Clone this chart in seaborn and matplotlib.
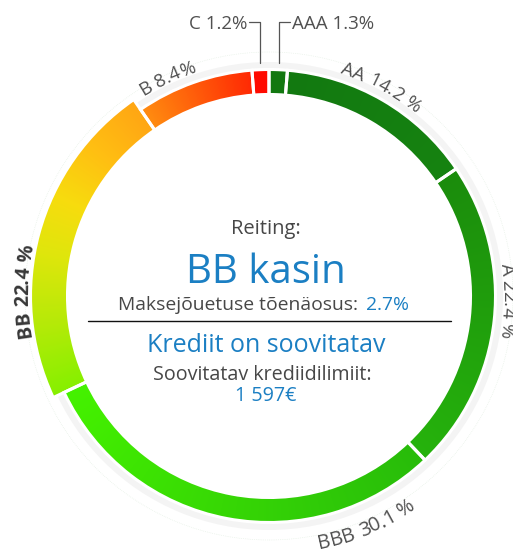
import numpy as np
import matplotlib
matplotlib.use("Agg")
import matplotlib.pyplot as plt
import seaborn as sns
from matplotlib.colors import LinearSegmentedColormap
from matplotlib.font_manager import FontProperties, findfont
from matplotlib.ft2font import FT2Font
from matplotlib.patches import Circle

# ---------------- data ----------------
categories = ["AAA", "AA", "A", "BBB", "BB", "B", "C"]
shares = [1.3, 14.2, 22.4, 30.1, 22.4, 8.4, 1.2]
pct_sep = ["", " ", " ", " ", " ", "", ""]
current_rating = "BB"
header = "Reiting:"
rating_text = "BB kasin"
pd_label = "Maksejõuetuse tõenäosus:"
pd_value = "2.7%"
recommendation = "Krediit on soovitatav"
limit_label = "Soovitatav krediidilimiit:"
limit_value = "1 597€"

# ---------------- style / layout ----------------
W, H, DPI = 513, 553, 100
sns.set_theme(style="white")
plt.rcParams["font.family"] = ["Open Sans", "DejaVu Sans"]

BLUE = "#1b7fc3"
GRAY = "#474747"
LABEL = "#505050"

cx, cy = 269, H - 296
R_OUT, R_IN, R_BB = 225, 203, 237
GAP_LW = 2.2

ring_stops = [
    (0.000, "#127810"), (0.155, "#168310"),
    (0.156, "#1b8c0d"), (0.379, "#26b30c"),
    (0.380, "#28bc0a"), (0.680, "#45f200"),
    (0.681, "#86f000"), (0.730, "#b5ea08"), (0.780, "#dfe60c"),
    (0.820, "#f7dc0e"), (0.860, "#ffc012"), (0.904, "#ffa614"),
    (0.905, "#ff8c10"), (0.987, "#ff2a04"),
    (0.988, "#ff0a00"), (1.000, "#ff0a00"),
]

# label placement: (offset from segment mid angle in deg, baseline radius, outward-reading, size)
label_layout = {
    "AA": (-2.0, 234, True, 13.5),
    "A": (-5.0, 234, True, 13.5),
    "BBB": (-33.6, 258, False, 14.5),
    "BB": (-14.0, 241, True, 14),
    "B": (-5.6, 236, True, 13.5),
}

fig = plt.figure(figsize=(W / DPI, H / DPI), dpi=DPI)
ax = fig.add_axes([0, 0, 1, 1])

# soft halo behind the ring
ax.pie([1], radius=R_OUT + 9, center=(cx, cy), colors=["#f4f4f4"],
       wedgeprops=dict(width=10, linewidth=0), startangle=90)
for w in ax.patches:
    w.set_zorder(0)
ax.add_patch(Circle((cx, cy), R_OUT + 19, fill=False, ls=":", lw=0.5,
                    color="#e2eee2", zorder=0))

# ring segments
wedges, _ = ax.pie(shares, radius=R_OUT + 1.5, center=(cx, cy), startangle=90,
                   counterclock=False,
                   wedgeprops=dict(width=(R_OUT - R_IN) + 3, edgecolor="white",
                                   linewidth=GAP_LW))
bb_idx = categories.index(current_rating)
wedges[bb_idx].set_radius(R_BB + 1.5)
wedges[bb_idx].set_width(R_BB - R_IN + 3)

yy, xx = np.mgrid[0:H, 0:W] + 0.5
t = (np.degrees(np.arctan2(xx - cx, yy - cy)) % 360) / 360
cmap = LinearSegmentedColormap.from_list("ring", ring_stops, N=1024)
rgb = cmap(t)
for w in wedges:
    im = ax.imshow(rgb, extent=(0, W, 0, H), origin="lower", zorder=1,
                   interpolation="nearest")
    im.set_clip_path(w)
    w.set_facecolor("none")
    w.set_zorder(2)

# angles (clockwise from top)
bounds = np.concatenate([[0], np.cumsum(shares)]) / sum(shares) * 360
mids = (bounds[:-1] + bounds[1:]) / 2


def arc_text(s, theta_c, r, size, weight="normal", color=LABEL, outward=True):
    fp = FontProperties(family=plt.rcParams["font.family"], size=size, weight=weight)
    font = FT2Font(findfont(fp))
    font.set_size(size, 72)
    adv = np.array([font.load_char(ord(ch)).linearHoriAdvance / 65536 * DPI / 72
                    for ch in s])
    pos = np.cumsum(np.concatenate([[0], adv[:-1]])) + adv / 2 - adv.sum() / 2
    for ch, p in zip(s, pos):
        d = np.degrees(p / r)
        th = theta_c + d if outward else theta_c - d
        x = cx + r * np.sin(np.radians(th))
        y = cy + r * np.cos(np.radians(th))
        rot = -th if outward else 180 - th
        ax.text(x, y, ch, rotation=rot, rotation_mode="anchor", ha="center",
                va="baseline", fontsize=size, fontweight=weight, color=color,
                zorder=3)


for cat, val, sep, mid in zip(categories, shares, pct_sep, mids):
    text = f"{cat} {val}{sep}%"
    if cat in label_layout:
        off, r, outward, size = label_layout[cat]
        bold = cat == current_rating
        arc_text(text, mid + off, r, size,
                 weight="bold" if bold else "normal",
                 color="#383838" if bold else LABEL, outward=outward)
    else:
        # small segments: leader line up to a label above the ring
        r_top = R_OUT + 8
        x0 = cx + r_top * np.sin(np.radians(mid))
        y0 = cy + r_top * np.cos(np.radians(mid))
        y1 = H - 22
        side = 1 if mid < 180 else -1
        x1 = x0 + side * 11
        ax.plot([x0, x0, x1], [y0, y1, y1], color="#555555", lw=0.9, zorder=3)
        ax.text(x1 + side * 2, H - 29, text, ha="left" if side > 0 else "right",
                va="baseline", fontsize=13.5, color=LABEL, zorder=3)

# centre texts
tx = 266
ax.text(tx, H - 234, header, ha="center", va="baseline", fontsize=14.5, color=GRAY)
ax.text(tx, H - 283, rating_text, ha="center", va="baseline", fontsize=29, color=BLUE)
ax.text(358, H - 310, pd_label, ha="right", va="baseline", fontsize=13.9, color=GRAY)
ax.text(366, H - 310, pd_value, ha="left", va="baseline", fontsize=13.9, color=BLUE)
ax.plot([88, 451], [H - 321, H - 321], color="#111111", lw=1.0)
ax.text(tx, H - 352.5, recommendation, ha="center", va="baseline", fontsize=18, color=BLUE)
ax.text(tx - 4, H - 380, limit_label, ha="center", va="baseline", fontsize=14.2, color=GRAY)
ax.text(tx, H - 401, limit_value, ha="center", va="baseline", fontsize=14.2, color=BLUE)

ax.set_xlim(0, W)
ax.set_ylim(0, H)
ax.set_aspect("equal")
ax.axis("off")
fig.savefig("out.png", dpi=DPI)
